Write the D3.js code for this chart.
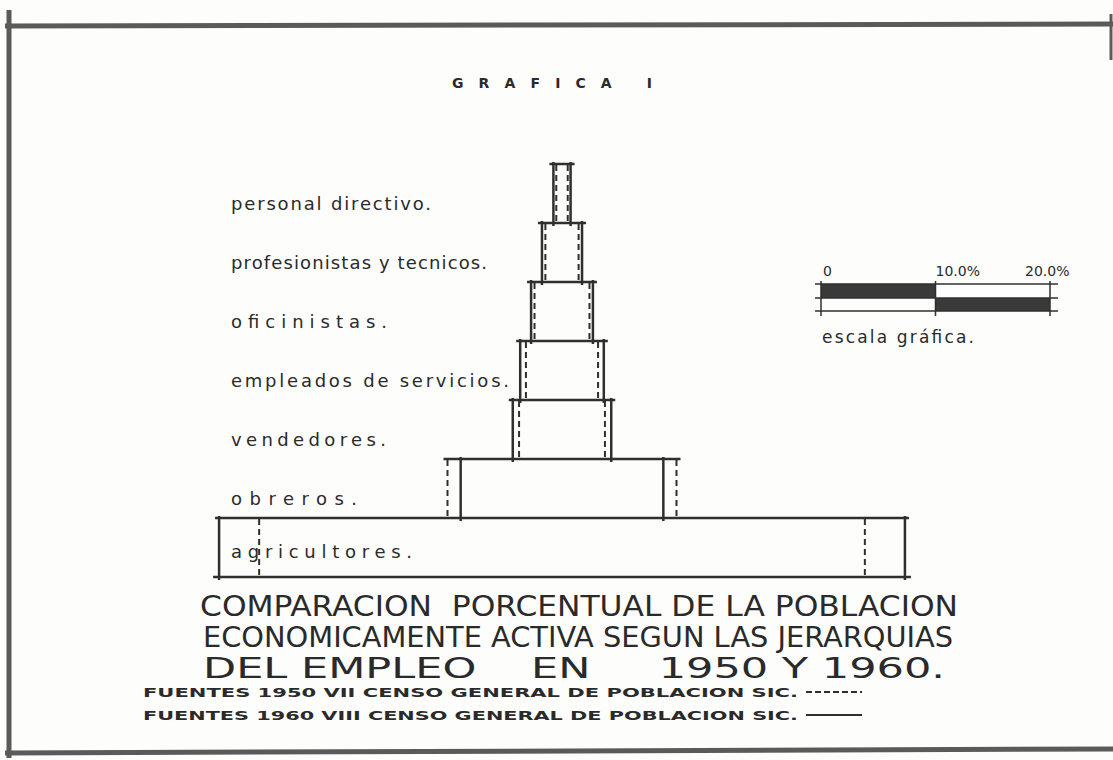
<!DOCTYPE html>
<html>
<head>
<meta charset="utf-8">
<script src="https://cdn.jsdelivr.net/npm/d3@7"></script>
<style>
  body { margin: 0; background: #fdfdfc; }
  svg text { fill: #2a2a2a; }
</style>
</head>
<body>
<div id="chart"></div>
<script>
// categories, top to bottom
const categories = [
  "personal directivo.",
  "profesionistas y tecnicos.",
  "oficinistas.",
  "empleados de servicios.",
  "vendedores.",
  "obreros.",
  "agricultores."
];
// percent of active population
const values1950 = [1.0, 2.9, 4.8, 6.3, 7.5, 20.0, 52.9];
const values1960 = [1.5, 3.5, 5.4, 7.3, 8.6, 17.7, 59.9];
const scaleTicks = [0, 10, 20];
const scaleTickLabels = ["0", "10.0%", "20.0%"];
const titleLines = [
  "COMPARACION  PORCENTUAL DE LA POBLACION",
  "ECONOMICAMENTE ACTIVA SEGUN LAS JERARQUIAS",
  "DEL EMPLEO    EN     1950 Y 1960."
];
const sources = [
  "FUENTES 1950 VII CENSO GENERAL DE POBLACION SIC.",
  "FUENTES 1960 VIII CENSO GENERAL DE POBLACION SIC."
];

const W = 1113, H = 760;
const ink = "#2f2f2f";
// hand-lettered label widths in the drawing
const labelWidths = [200, 256, 156, 278, 155, 126, 181];

const svg = d3.select("#chart").append("svg")
  .attr("width", W).attr("height", H);

svg.append("rect").attr("width", W).attr("height", H).attr("fill", "#fdfdfc");

// sheet border
const border = svg.append("g").attr("stroke", "#5a5a5a").attr("stroke-width", 5);
border.append("line").attr("x1", 5).attr("x2", W).attr("y1", 26).attr("y2", 24);
border.append("line").attr("x1", 9).attr("x2", 9).attr("y1", 10).attr("y2", 758);
border.append("line").attr("x1", 5).attr("x2", W).attr("y1", 753).attr("y2", 749);
border.append("line").attr("x1", 1111).attr("x2", 1111).attr("y1", 14).attr("y2", 60).attr("stroke-width", 3);

// heading
svg.append("text")
  .attr("x", 452).attr("y", 88)
  .attr("font-family", "DejaVu Sans").attr("font-weight", "bold")
  .attr("font-size", 14)
  .attr("textLength", 200).attr("lengthAdjust", "spacing")
  .text("GRAFICA I");

// scales
const center = 562;
const widthScale = d3.scaleLinear().domain([0, 10]).range([0, 114.5]);
const y = d3.scaleBand().domain(categories).range([164, 577]).paddingInner(0);

const rows = categories.map((c, i) => ({
  cat: c, i,
  v50: values1950[i], v60: values1960[i]
}));

const pyr = svg.append("g");

// horizontal top lines of each step (span widest of the two years)
pyr.selectAll("line.top").data(rows).enter().append("line")
  .attr("x1", d => center - widthScale(Math.max(d.v50, d.v60)) / 2 - 4)
  .attr("x2", d => center + widthScale(Math.max(d.v50, d.v60)) / 2 + 4)
  .attr("y1", d => y(d.cat)).attr("y2", d => y(d.cat))
  .attr("stroke", ink).attr("stroke-width", 2.5);

// base line
const last = rows[rows.length - 1];
pyr.append("line")
  .attr("x1", center - widthScale(Math.max(last.v50, last.v60)) / 2 - 6)
  .attr("x2", center + widthScale(Math.max(last.v50, last.v60)) / 2 + 6)
  .attr("y1", y(last.cat) + y.bandwidth()).attr("y2", y(last.cat) + y.bandwidth())
  .attr("stroke", ink).attr("stroke-width", 2.5);

// 1960 solid sides, 1950 dashed sides
["l", "r"].forEach(side => {
  const sgn = side === "l" ? -1 : 1;
  pyr.selectAll("line.s60" + side).data(rows).enter().append("line")
    .attr("x1", d => center + sgn * widthScale(d.v60) / 2)
    .attr("x2", d => center + sgn * widthScale(d.v60) / 2)
    .attr("y1", d => y(d.cat) - 2).attr("y2", d => y(d.cat) + y.bandwidth() + 3)
    .attr("stroke", ink).attr("stroke-width", 2.5);
  pyr.selectAll("line.s50" + side).data(rows).enter().append("line")
    .attr("x1", d => center + sgn * widthScale(d.v50) / 2)
    .attr("x2", d => center + sgn * widthScale(d.v50) / 2)
    .attr("y1", d => y(d.cat) + 1).attr("y2", d => y(d.cat) + y.bandwidth())
    .attr("stroke", ink).attr("stroke-width", 2)
    .attr("stroke-dasharray", "6,4");
});

// category labels
pyr.selectAll("text.cat").data(rows).enter().append("text")
  .attr("x", 231)
  .attr("y", d => y(d.cat) + (d.i === 6 ? 40 : 46))
  .attr("font-family", "DejaVu Sans").attr("font-size", 18)
  .attr("textLength", d => labelWidths[d.i]).attr("lengthAdjust", "spacing")
  .text(d => d.cat);

// graphic scale legend
const sx = d3.scaleLinear().domain([0, 20]).range([821, 1050]);
const leg = svg.append("g");
const lt = 284, lm = 298, lb = 311;
leg.append("rect").attr("x", sx(0)).attr("y", lt).attr("width", sx(10) - sx(0)).attr("height", lm - lt).attr("fill", "#3a3a3a");
leg.append("rect").attr("x", sx(10)).attr("y", lm).attr("width", sx(20) - sx(10)).attr("height", lb - lm).attr("fill", "#3a3a3a");
[lt, lm, lb].forEach(yy => {
  leg.append("line").attr("x1", sx(0) - 6).attr("x2", sx(20) + 8)
    .attr("y1", yy).attr("y2", yy).attr("stroke", ink).attr("stroke-width", 1.5);
});
leg.selectAll("line.tick").data(scaleTicks).enter().append("line")
  .attr("x1", d => sx(d)).attr("x2", d => sx(d))
  .attr("y1", lt - 3).attr("y2", lb + 5)
  .attr("stroke", ink).attr("stroke-width", 1.5);
leg.selectAll("text.tick").data(scaleTicks).enter().append("text")
  .attr("x", d => sx(d) + (d === 0 ? 2 : d === 10 ? 0 : -25))
  .attr("y", 276)
  .attr("font-family", "DejaVu Sans").attr("font-size", 14)
  .text((d, i) => scaleTickLabels[i]);
leg.append("text").attr("x", 822).attr("y", 343)
  .attr("font-family", "DejaVu Sans").attr("font-size", 17)
  .attr("textLength", 152).attr("lengthAdjust", "spacing")
  .text("escala gráfica.");

// title
const tx = [[200, 758], [203, 750], [203, 742]];
svg.selectAll("text.title").data(titleLines).enter().append("text")
  .attr("x", (d, i) => tx[i][0])
  .attr("y", (d, i) => 616 + i * 31)
  .attr("font-family", "DejaVu Sans Condensed, DejaVu Sans").attr("font-size", 28)
  .attr("textLength", (d, i) => tx[i][1]).attr("lengthAdjust", "spacingAndGlyphs")
  .style("white-space", "pre")
  .text(d => d);

// sources with line style keys
sources.forEach((s, i) => {
  const yy = 697 + i * 23;
  svg.append("text").attr("x", 143).attr("y", yy)
    .attr("font-family", "DejaVu Sans").attr("font-weight", "bold").attr("font-size", 12)
    .attr("textLength", 655).attr("lengthAdjust", "spacingAndGlyphs")
    .text(s);
  svg.append("line").attr("x1", 806).attr("x2", 862)
    .attr("y1", yy - 5).attr("y2", yy - 5)
    .attr("stroke", ink).attr("stroke-width", 2)
    .attr("stroke-dasharray", i === 0 ? "6,3" : null);
});
</script>
</body>
</html>
